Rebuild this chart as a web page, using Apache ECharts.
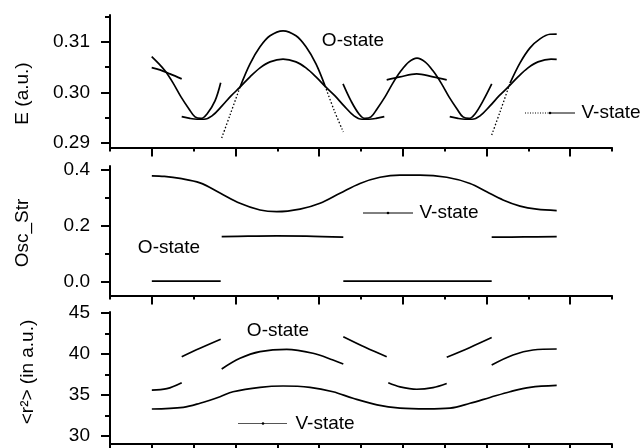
<!DOCTYPE html>
<html>
<head>
<meta charset="utf-8">
<script src="https://cdn.jsdelivr.net/npm/echarts@6/dist/echarts.min.js"></script>
<style>html,body{margin:0;padding:0;background:#fff;}#c{width:644px;height:448px;}</style>
</head>
<body>
<div id="c"></div>
<script>
// ---------- DATA (x in tick units 0..12) ----------
// Top panel: E (a.u.)
const eFlatA = [[0.997,0.30491],[1.195,0.30446],[1.434,0.30366],[1.714,0.30267]];
const eCurve1 = [[0.997,0.30709],[1.124,0.30604],[1.315,0.30426],[1.506,0.30188],[1.697,0.29911],[1.888,0.29673],[2.032,0.29515],[2.175,0.29485],[2.319,0.29574],[2.510,0.29832],[2.646,0.30190]];
const eCurve2 = [[1.714,0.29521],[1.912,0.29485],[2.080,0.29469],[2.247,0.29469],[2.438,0.29535],[2.677,0.29733],[2.893,0.29931],[3.107,0.30103],[3.347,0.30307],[3.586,0.30485],[3.825,0.30604],[4.136,0.30657],[4.446,0.30604],[4.685,0.30485],[4.924,0.30307],[5.163,0.30103],[5.379,0.29931],[5.594,0.29733],[5.833,0.29535],[6.024,0.29469],[6.192,0.29469],[6.359,0.29485],[6.557,0.29521]];
const eCurve3 = [[5.570,0.30168],[5.761,0.29832],[5.952,0.29574],[6.096,0.29485],[6.239,0.29515],[6.383,0.29673],[6.574,0.29911],[6.765,0.30188],[6.956,0.30426],[7.147,0.30604],[7.339,0.30677],[7.530,0.30604],[7.721,0.30426],[7.913,0.30188],[8.104,0.29911],[8.295,0.29673],[8.438,0.29515],[8.582,0.29485],[8.725,0.29574],[8.917,0.29832],[9.125,0.30168]];
const eCurve4 = [[8.121,0.29521],[8.319,0.29485],[8.486,0.29469],[8.654,0.29469],[8.845,0.29535],[9.084,0.29733],[9.299,0.29931],[9.514,0.30103],[9.753,0.30307],[9.992,0.30485],[10.231,0.30604],[10.542,0.30657],[10.678,0.30653]];
const eFlatB = [[6.614,0.30248],[6.932,0.30307],[7.331,0.30366],[7.721,0.30307],[8.049,0.30248]];
const eArc1Solid = [[3.107,0.30103],[3.347,0.30564],[3.586,0.30901],[3.825,0.31119],[4.136,0.31218],[4.446,0.31119],[4.685,0.30901],[4.924,0.30564],[5.140,0.30129]];
const eArc1DotL = [[2.670,0.29099],[2.869,0.29554],[3.107,0.30103]];
const eArc1DotR = [[5.140,0.30129],[5.355,0.29653],[5.577,0.29218]];
const eArc2Dot = [[9.124,0.29158],[9.323,0.29614],[9.562,0.30182]];
const eArc2Solid = [[9.562,0.30182],[9.802,0.30584],[10.040,0.30881],[10.279,0.31059],[10.518,0.31149],[10.678,0.31152]];
// Middle panel: Osc_Str
const oscMain = [[1.0,0.379],[1.3,0.377],[1.673,0.370],[2.151,0.354],[2.630,0.318],[3.107,0.281],[3.586,0.257],[3.985,0.251],[4.542,0.260],[5.020,0.281],[5.498,0.317],[5.976,0.352],[6.454,0.374],[6.932,0.382],[7.410,0.382],[8.049,0.374],[8.606,0.352],[9.005,0.322],[9.395,0.293],[9.802,0.271],[10.200,0.260],[10.678,0.255]];
const oscMidA = [[2.670,0.162],[3.3,0.164],[3.985,0.165],[4.7,0.164],[5.577,0.160]];
const oscMidB = [[9.124,0.160],[9.9,0.161],[10.678,0.162]];
const oscZeroA = [[1.0,0.003],[2.646,0.003]];
const oscZeroB = [[5.577,0.003],[9.124,0.003]];
// Bottom panel: <r^2>
const rLow = [[1.0,33.29],[1.752,33.5],[2.151,34.0],[2.63,34.79],[2.94,35.4],[3.586,35.94],[4.136,36.1],[4.781,35.94],[5.331,35.4],[5.809,34.6],[6.383,33.8],[6.932,33.4],[7.578,33.3],[8.128,33.4],[8.606,33.99],[9.084,34.7],[9.562,35.4],[10.040,35.94],[10.678,36.18]];
const rSegA = [[1.0,35.6],[1.359,35.77],[1.714,36.5]];
const rSegB = [[1.714,39.67],[2.151,40.7],[2.646,41.8]];
const rSegC = [[2.670,38.17],[3.107,39.47],[3.586,40.28],[4.224,40.57],[4.853,40.09],[5.331,39.27],[5.577,38.78]];
const rSegD = [[5.577,42.11],[6.1,40.82],[6.614,39.67]];
const rSegE = [[6.652,36.5],[6.932,36.0],[7.331,35.7],[7.721,35.9],[8.049,36.4]];
const rSegF = [[8.049,39.6],[8.606,40.8],[9.124,42.0]];
const rSegG = [[9.124,38.66],[9.634,39.88],[10.112,40.49],[10.678,40.61]];
// Ticks
const eMajor = [0.29,0.30,0.31], eMinor = [0.295,0.305,0.315];
const oMajor = [0.0,0.2,0.4], oMinor = [0.1,0.3];
const rMajor = [30,35,40,45], rMinor = [32.5,37.5,42.5];
const yTitles = ['E (a.u.)','Osc_Str','<r\u00B2> (in a.u.)'];

// ---------- CHART ----------
const FONT = 'Liberation Sans, Arial, Helvetica, sans-serif';
const chart = echarts.init(document.getElementById('c'), null, {renderer:'canvas'});
const grids = [
  {left:110, top:15, width:502, height:132.5},
  {left:110, top:166, width:502, height:129.5},
  {left:110, top:312, width:502, height:132}
];
const yRanges = [[0.28911,0.3153],[-0.0482,0.4143],[29.024,45.122]];
const majors = [eMajor,oMajor,rMajor], minors = [eMinor,oMinor,rMinor];
const fmts = [v=>v.toFixed(2), v=>v.toFixed(1), v=>String(v)];
const xAxes = [], yAxes = [];
grids.forEach((g,i)=>{
  xAxes.push({type:'value', gridIndex:i, min:0, max:12, interval:2, position:'bottom',
    axisLine:{show:true, onZero:false, lineStyle:{color:'#000', width:2}},
    axisTick:{show:true, inside:false, length:4, lineStyle:{color:'#000', width:2}},
    minorTick:{show:true, splitNumber:2, length:9, lineStyle:{color:'#000', width:2}},
    axisLabel:{show:false}, splitLine:{show:false}, minorSplitLine:{show:false}});
  yAxes.push({type:'value', gridIndex:i, min:yRanges[i][0], max:yRanges[i][1], position:'left',
    axisLine:{show:true, onZero:false, lineStyle:{color:'#000', width:2}},
    axisTick:{show:true, inside:false, length:9, customValues:majors[i], lineStyle:{color:'#000', width:2}},
    axisLabel:{show:true, customValues:majors[i], margin:20, formatter:fmts[i], color:'#000', fontSize:19, fontFamily:FONT},
    splitLine:{show:false}});
  yAxes.push({type:'value', gridIndex:i, min:yRanges[i][0], max:yRanges[i][1], position:'left',
    axisLine:{show:false},
    axisTick:{show:true, inside:false, length:5, customValues:minors[i], lineStyle:{color:'#000', width:2}},
    axisLabel:{show:false}, splitLine:{show:false}});
});
function ln(data, g, extra){
  const s = {type:'line', data:data, xAxisIndex:g, yAxisIndex:g*2, showSymbol:false, symbol:'none',
    smooth:0.35, silent:true, animation:false,
    lineStyle:{color:'#000', width:1.7}};
  if (extra) Object.assign(s.lineStyle, extra);
  return s;
}
const dotted = {width:1.3, type:[1.5,2]};
const series = [
  ln(eFlatA,0), ln(eCurve1,0), ln(eCurve2,0), ln(eCurve3,0), ln(eCurve4,0), ln(eFlatB,0),
  ln(eArc1Solid,0), ln(eArc1DotL,0,dotted), ln(eArc1DotR,0,dotted), ln(eArc2Dot,0,dotted), ln(eArc2Solid,0),
  ln(oscMain,1), ln(oscMidA,1), ln(oscMidB,1), ln(oscZeroA,1), ln(oscZeroB,1),
  ln(rLow,2), ln(rSegA,2), ln(rSegB,2), ln(rSegC,2), ln(rSegD,2), ln(rSegE,2), ln(rSegF,2), ln(rSegG,2)
];
function txt(s, x, y, rot){
  return {type:'text', x:x, y:y, rotation:rot||0, silent:true,
    style:{text:s, fill:'#000', font:'19px '+FONT, align:'center', verticalAlign:'middle', textAlign:'center', textVerticalAlign:'middle'}};
}
function legendSample(x1, x2, y, dotX, dottedLeft, grey){
  const col = grey ? '#555' : '#000';
  const els = [];
  if (dottedLeft) {
    els.push({type:'line', silent:true, shape:{x1:x1,y1:y,x2:dotX,y2:y}, style:{stroke:col, lineWidth:1, lineDash:[1,1.5]}});
  } else {
    els.push({type:'line', silent:true, shape:{x1:x1,y1:y,x2:dotX,y2:y}, style:{stroke:col, lineWidth:1}});
  }
  els.push({type:'line', silent:true, shape:{x1:dotX,y1:y,x2:x2,y2:y}, style:{stroke:col, lineWidth:1}});
  els.push({type:'circle', silent:true, shape:{cx:dotX, cy:y, r:1.3}, style:{fill:'#000'}});
  return els;
}
const graphic = [
  txt(yTitles[0], 23, 93.5, Math.PI/2),
  txt(yTitles[1], 23, 233, Math.PI/2),
  txt(yTitles[2], 28, 372, Math.PI/2),
  txt('O-state', 353, 41), txt('O-state', 169, 248), txt('O-state', 278, 331),
  txt('V-state', 611, 113), txt('V-state', 449, 213), txt('V-state', 325, 423.5)
].concat(legendSample(525,575,113,550,true,false))
 .concat(legendSample(363,413,213,388,false,false))
 .concat(legendSample(238,287,423.5,263,false,true));

chart.setOption({
  animation:false,
  backgroundColor:'#fff',
  grid:grids,
  xAxis:xAxes,
  yAxis:yAxes,
  series:series,
  graphic:graphic
});
</script>
</body>
</html>
